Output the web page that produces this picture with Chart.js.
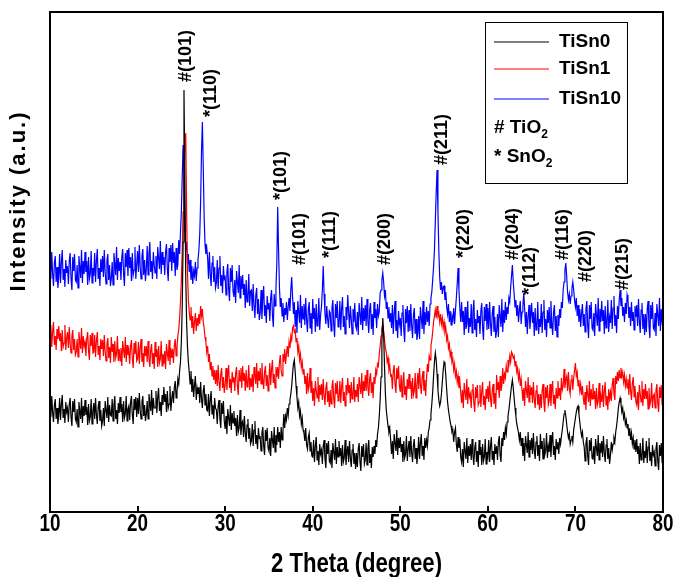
<!DOCTYPE html>
<html>
<head>
<meta charset="utf-8">
<title>XRD patterns</title>
<script src="https://cdn.jsdelivr.net/npm/chart.js@4.4.0/dist/chart.umd.min.js"></script>
<style>
  html, body { margin: 0; padding: 0; background: #fff; }
  #wrap { width: 675px; height: 577px; }
</style>
</head>
<body>
<div id="wrap"><canvas id="xrd" width="675" height="577"></canvas></div>
<script>
// scan grid, 10 to 80 degrees in 0.1 degree steps
const twoTheta = Array.from({ length: 701 }, (_, i) => Math.round((10 + i * 0.1) * 10) / 10);

// intensities (a.u., offset for stacking), one row per degree
const tiSn0 = [
  111, 95, 116, 99, 90, 107, 113, 93, 104, 88,
  97, 114, 92, 108, 117, 94, 103, 89, 110, 100,
  104, 90, 108, 114, 95, 86, 111, 100, 113, 93,
  90, 103, 85, 110, 101, 93, 114, 89, 106, 96,
  112, 97, 105, 87, 108, 91, 95, 113, 88, 100,
  109, 93, 114, 97, 88, 105, 111, 91, 102, 86,
  91, 104, 86, 111, 102, 94, 115, 90, 107, 97,
  96, 113, 91, 107, 116, 93, 102, 88, 109, 99,
  115, 100, 108, 90, 111, 94, 98, 116, 91, 103,
  106, 92, 110, 116, 97, 88, 113, 102, 115, 95,
  114, 98, 119, 102, 93, 110, 116, 96, 107, 91,
  98, 111, 93, 118, 109, 101, 122, 97, 114, 104,
  104, 121, 99, 115, 124, 101, 110, 96, 117, 107,
  125, 110, 118, 100, 121, 104, 108, 126, 101, 113,
  121, 109, 125, 131, 114, 120, 133, 128, 141, 150,
  170, 205, 270, 422, 330, 235, 190, 165, 150, 140,
  128, 141, 120, 133, 115, 127, 136, 112, 124, 118,
  125, 109, 130, 113, 104, 121, 127, 107, 118, 102,
  101, 118, 96, 112, 121, 98, 107, 93, 114, 104,
  102, 88, 106, 112, 93, 84, 109, 98, 111, 91,
  83, 96, 78, 103, 94, 86, 107, 82, 99, 89,
  101, 86, 94, 76, 97, 80, 84, 102, 77, 89,
  91, 75, 96, 79, 70, 87, 93, 73, 84, 68,
  71, 88, 66, 82, 91, 68, 77, 63, 84, 74,
  75, 61, 79, 85, 66, 57, 82, 71, 84, 64,
  61, 74, 56, 81, 72, 64, 85, 60, 77, 67,
  85, 70, 80, 64, 85, 72, 80, 98, 84, 96,
  92, 104, 97, 108, 112, 118, 126, 138, 148, 152,
  140, 126, 115, 104, 110, 96, 101, 88, 94, 82,
  79, 71, 84, 67, 63, 75, 79, 61, 70, 56,
  55, 72, 50, 66, 75, 52, 61, 47, 68, 58,
  62, 48, 66, 72, 53, 44, 69, 58, 71, 51,
  49, 62, 44, 69, 60, 52, 73, 48, 65, 55,
  71, 56, 64, 46, 67, 50, 54, 72, 47, 59,
  66, 50, 71, 54, 45, 62, 68, 48, 59, 43,
  59, 45, 63, 69, 50, 41, 66, 55, 68, 48,
  52, 69, 47, 63, 72, 49, 58, 44, 65, 55,
  66, 58, 72, 65, 78, 84, 96, 112, 135, 170,
  194, 178, 145, 118, 102, 94, 86, 80, 84, 72,
  58, 71, 53, 78, 69, 61, 82, 57, 74, 64,
  75, 60, 68, 50, 71, 54, 58, 76, 51, 63,
  71, 55, 76, 59, 50, 67, 73, 53, 64, 48,
  58, 75, 53, 69, 78, 56, 66, 52, 74, 64,
  72, 66, 80, 84, 92, 98, 108, 120, 136, 150,
  159, 152, 138, 122, 112, 106, 110, 118, 130, 142,
  150, 148, 136, 122, 110, 102, 96, 90, 86, 80,
  82, 70, 80, 84, 68, 60, 75, 64, 73, 55,
  50, 63, 45, 70, 61, 53, 74, 49, 66, 56,
  68, 52, 73, 56, 47, 64, 70, 50, 61, 45,
  72, 57, 65, 47, 68, 51, 55, 73, 48, 60,
  55, 72, 50, 66, 75, 52, 61, 47, 68, 58,
  66, 52, 70, 76, 57, 50, 74, 66, 80, 72,
  84, 78, 90, 96, 102, 110, 118, 126, 132, 124,
  114, 104, 96, 88, 84, 79, 72, 80, 66, 74,
  56, 69, 51, 76, 67, 59, 80, 55, 72, 62,
  74, 58, 79, 62, 53, 70, 76, 56, 67, 51,
  78, 63, 71, 53, 74, 57, 61, 79, 54, 66,
  60, 77, 55, 71, 80, 57, 66, 52, 73, 63,
  70, 58, 74, 68, 76, 82, 90, 98, 102, 96,
  88, 80, 74, 78, 68, 72, 76, 70, 82, 88,
  94, 100, 104, 106, 98, 90, 82, 76, 80, 70,
  65, 51, 69, 75, 56, 47, 72, 61, 74, 54,
  53, 66, 48, 73, 64, 56, 77, 52, 69, 59,
  71, 55, 76, 59, 50, 67, 73, 53, 64, 48,
  57, 70, 62, 68, 74, 70, 80, 86, 94, 104,
  110, 114, 108, 100, 104, 94, 98, 88, 92, 84,
  88, 76, 84, 72, 79, 68, 74, 63, 72, 60,
  73, 58, 66, 48, 69, 52, 56, 74, 49, 61,
  54, 71, 49, 65, 74, 51, 60, 46, 67, 57,
  60, 46, 64, 70, 51, 42, 67, 56, 69, 49,
  58
];

const tiSn1 = [
  170, 187, 165, 181, 190, 167, 176, 162, 183, 173,
  186, 171, 179, 161, 182, 165, 169, 187, 162, 174,
  180, 164, 185, 168, 159, 176, 182, 162, 173, 157,
  160, 173, 155, 180, 171, 163, 184, 159, 176, 166,
  170, 156, 174, 180, 161, 152, 177, 166, 179, 159,
  160, 177, 155, 171, 180, 157, 166, 152, 173, 163,
  172, 156, 177, 160, 151, 168, 174, 154, 165, 149,
  175, 160, 168, 150, 171, 154, 158, 176, 151, 163,
  151, 164, 146, 171, 162, 154, 175, 150, 167, 157,
  162, 148, 166, 172, 153, 144, 169, 158, 171, 151,
  153, 170, 148, 164, 173, 150, 159, 145, 166, 156,
  166, 150, 171, 154, 145, 162, 168, 148, 159, 143,
  170, 155, 163, 145, 166, 149, 153, 171, 146, 158,
  148, 161, 143, 168, 159, 151, 172, 147, 164, 154,
  163, 149, 167, 173, 156, 165, 176, 182, 194, 210,
  232, 262, 300, 330, 370, 379, 300, 240, 212, 200,
  192, 205, 184, 196, 178, 190, 199, 181, 194, 186,
  198, 188, 206, 196, 203, 190, 184, 175, 170, 160,
  166, 150, 158, 142, 150, 136, 146, 132, 142, 128,
  142, 126, 147, 130, 121, 138, 144, 124, 135, 119,
  127, 144, 122, 138, 147, 124, 133, 119, 140, 130,
  135, 121, 139, 145, 126, 117, 142, 131, 144, 124,
  146, 131, 139, 121, 142, 125, 129, 147, 122, 134,
  125, 138, 120, 145, 136, 128, 149, 124, 141, 131,
  144, 128, 149, 132, 123, 140, 146, 126, 137, 121,
  132, 149, 127, 143, 152, 129, 138, 124, 145, 135,
  145, 133, 150, 157, 141, 136, 158, 150, 163, 148,
  158, 166, 155, 170, 164, 176, 172, 184, 186, 180,
  182, 170, 174, 160, 166, 152, 158, 145, 150, 138,
  143, 128, 136, 118, 139, 122, 126, 144, 119, 131,
  111, 124, 106, 131, 122, 114, 135, 110, 127, 117,
  128, 112, 133, 116, 107, 124, 130, 110, 121, 105,
  122, 108, 126, 132, 113, 104, 129, 118, 131, 111,
  114, 131, 109, 125, 134, 111, 120, 106, 127, 117,
  134, 119, 127, 109, 130, 113, 117, 135, 110, 122,
  115, 128, 110, 135, 126, 118, 139, 114, 131, 121,
  137, 121, 142, 125, 116, 133, 139, 119, 130, 114,
  135, 128, 142, 138, 148, 146, 158, 166, 176, 184,
  186, 180, 172, 164, 160, 150, 154, 142, 146, 136,
  137, 123, 141, 147, 128, 119, 144, 133, 146, 126,
  120, 137, 115, 131, 140, 117, 126, 112, 133, 123,
  138, 123, 131, 113, 134, 117, 121, 139, 114, 126,
  139, 123, 144, 127, 118, 135, 141, 121, 132, 116,
  135, 148, 140, 156, 152, 166, 172, 180, 190, 196,
  202, 194, 206, 196, 199, 190, 198, 188, 194, 184,
  190, 180, 184, 172, 176, 164, 168, 156, 160, 150,
  153, 142, 148, 136, 141, 130, 136, 124, 131, 120,
  109, 122, 104, 129, 120, 112, 133, 108, 125, 115,
  118, 104, 122, 128, 109, 100, 125, 114, 127, 107,
  110, 127, 105, 121, 130, 107, 116, 102, 123, 113,
  126, 110, 131, 114, 105, 122, 128, 108, 119, 103,
  137, 122, 130, 114, 136, 121, 126, 144, 128, 138,
  134, 146, 140, 152, 147, 156, 150, 160, 158, 154,
  156, 146, 151, 140, 144, 133, 139, 126, 133, 122,
  111, 124, 106, 131, 122, 114, 135, 110, 127, 117,
  125, 109, 130, 113, 104, 121, 127, 107, 118, 102,
  118, 104, 122, 128, 109, 100, 125, 114, 127, 107,
  111, 128, 106, 122, 131, 108, 117, 103, 124, 114,
  131, 116, 124, 112, 134, 122, 126, 143, 124, 133,
  136, 121, 140, 124, 118, 132, 137, 122, 134, 142,
  149, 136, 140, 126, 132, 121, 128, 117, 126, 114,
  107, 120, 102, 127, 118, 110, 131, 106, 123, 113,
  128, 113, 121, 103, 124, 107, 111, 129, 104, 116,
  110, 127, 105, 121, 130, 107, 116, 102, 123, 113,
  120, 111, 127, 134, 118, 112, 136, 128, 140, 131,
  142, 134, 144, 136, 140, 130, 137, 126, 133, 124,
  133, 117, 138, 121, 112, 129, 135, 115, 126, 110,
  107, 120, 102, 127, 118, 110, 131, 106, 123, 113,
  128, 113, 121, 103, 124, 107, 111, 129, 104, 116,
  118, 104, 122, 128, 109, 100, 125, 114, 127, 107,
  121
];

const tiSn10 = [
  254, 233, 260, 238, 226, 249, 256, 230, 245, 224,
  235, 258, 229, 250, 262, 232, 243, 225, 252, 239,
  246, 228, 251, 259, 234, 222, 255, 241, 258, 232,
  230, 247, 224, 256, 245, 234, 262, 229, 251, 238,
  260, 240, 251, 227, 255, 233, 238, 261, 229, 244,
  236, 259, 230, 251, 263, 233, 244, 226, 253, 240,
  256, 235, 262, 240, 228, 251, 258, 232, 247, 226,
  233, 250, 227, 259, 248, 237, 265, 232, 254, 241,
  250, 232, 255, 263, 238, 226, 259, 245, 262, 236,
  264, 244, 255, 231, 259, 237, 242, 265, 233, 248,
  261, 240, 267, 245, 233, 256, 263, 237, 252, 231,
  243, 266, 237, 258, 270, 240, 251, 233, 260, 247,
  239, 256, 233, 265, 254, 243, 271, 238, 260, 247,
  255, 237, 260, 268, 243, 231, 264, 250, 267, 241,
  269, 249, 260, 236, 264, 242, 247, 272, 258, 280,
  300, 335, 367, 340, 290, 262, 270, 248, 258, 240,
  252, 232, 246, 228, 241, 236, 250, 231, 244, 252,
  262, 278, 310, 360, 390, 345, 296, 268, 258, 264,
  254, 233, 260, 238, 226, 249, 256, 230, 245, 224,
  229, 252, 223, 244, 256, 226, 237, 219, 246, 233,
  235, 217, 240, 248, 223, 211, 244, 230, 247, 221,
  215, 232, 209, 241, 230, 219, 247, 214, 236, 223,
  237, 217, 228, 204, 232, 210, 215, 238, 206, 221,
  222, 201, 228, 206, 194, 217, 224, 198, 213, 192,
  199, 222, 193, 214, 226, 196, 207, 189, 216, 203,
  209, 191, 214, 222, 197, 185, 218, 206, 224, 248,
  305, 262, 225, 205, 214, 196, 209, 190, 204, 197,
  210, 192, 205, 214, 201, 222, 235, 215, 198, 210,
  185, 202, 179, 211, 200, 189, 217, 184, 206, 193,
  208, 187, 214, 192, 180, 203, 210, 184, 199, 178,
  213, 193, 204, 180, 208, 186, 191, 214, 182, 197,
  205, 222, 246, 218, 198, 188, 206, 193, 184, 201,
  199, 181, 204, 212, 187, 175, 208, 194, 211, 185,
  188, 211, 182, 203, 215, 185, 196, 178, 205, 192,
  217, 200, 184, 206, 193, 178, 203, 190, 209, 186,
  183, 200, 177, 209, 198, 187, 215, 182, 204, 191,
  207, 186, 213, 191, 179, 202, 209, 183, 198, 177,
  210, 194, 203, 184, 208, 196, 200, 219, 222, 232,
  239, 230, 216, 222, 203, 210, 194, 205, 190, 199,
  184, 207, 178, 199, 211, 181, 192, 174, 201, 188,
  194, 176, 199, 207, 182, 170, 203, 189, 206, 180,
  202, 181, 208, 186, 174, 197, 204, 178, 193, 172,
  179, 196, 173, 205, 194, 183, 211, 178, 200, 187,
  205, 190, 201, 186, 208, 214, 220, 232, 245, 262,
  290, 320, 342, 300, 262, 235, 222, 230, 218, 225,
  226, 212, 220, 205, 198, 208, 190, 201, 187, 196,
  192, 204, 188, 202, 214, 228, 244, 222, 204, 190,
  210, 190, 201, 177, 205, 183, 188, 211, 179, 194,
  185, 208, 179, 200, 212, 182, 193, 175, 202, 189,
  196, 178, 201, 209, 184, 172, 205, 191, 208, 182,
  204, 183, 210, 188, 176, 199, 206, 180, 195, 174,
  181, 198, 175, 207, 196, 185, 213, 180, 202, 189,
  210, 192, 205, 198, 214, 210, 224, 236, 247, 230,
  218, 205, 212, 196, 207, 190, 202, 211, 188, 200,
  206, 219, 203, 185, 200, 178, 196, 207, 183, 195,
  209, 189, 200, 176, 204, 182, 187, 210, 178, 193,
  185, 208, 179, 200, 212, 182, 193, 175, 202, 189,
  205, 184, 211, 189, 177, 200, 207, 181, 196, 175,
  197, 186, 203, 194, 210, 204, 222, 230, 242, 249,
  236, 220, 212, 218, 208, 216, 224, 230, 222, 212,
  205, 214, 196, 207, 190, 203, 185, 199, 208, 186,
  198, 180, 203, 211, 186, 174, 207, 193, 210, 184,
  182, 199, 176, 208, 197, 186, 214, 181, 203, 190,
  211, 191, 202, 178, 206, 184, 189, 212, 180, 195,
  189, 212, 183, 204, 216, 186, 197, 179, 206, 193,
  212, 222, 206, 214, 196, 205, 190, 209, 198, 217,
  212, 194, 205, 186, 210, 191, 200, 182, 206, 195,
  207, 186, 213, 191, 179, 202, 209, 183, 198, 177,
  198, 180, 203, 211, 186, 174, 207, 193, 210, 184,
  182, 199, 176, 208, 197, 186, 214, 181, 203, 190,
  193
];

const seriesNames = ["TiSn0", "TiSn1", "TiSn10"];
const seriesValues = [tiSn0, tiSn1, tiSn10];
const seriesColors = ["#000000", "#ff0000", "#0000ff"];

const xTicks = [10, 20, 30, 40, 50, 60, 70, 80];
const xTitle = "2 Theta (degree)";
const yTitle = "Intensity (a.u.)";

// reflection labels (# anatase TiO2, * rutile SnO2) and where each one starts
const peakText = ["#(101)", "*(110)", "*(101)", "#(101)", "*(111)", "#(200)", "#(211)",
  "*(220)", "#(204)", "*(112)", "#(116)", "#(220)", "#(215)"];
const peakAngle = [25.5, 28.4, 36.4, 38.55, 41.95, 48.25, 54.75, 57.3, 62.85, 64.8, 68.6, 71.2, 75.45];
const peakLevel = [430, 395, 312, 247, 254, 247, 347, 254, 252, 217, 252, 230, 222];

const sans = "'Liberation Sans', Arial, sans-serif";

const datasets = seriesNames.map((name, i) => ({
  label: name,
  data: twoTheta.map((t, j) => ({ x: t, y: seriesValues[i][j] })),
  borderColor: seriesColors[i],
  borderWidth: 1.2,
  pointRadius: 0,
  tension: 0,
  fill: false,
}));

// draws text squeezed horizontally, like a narrow typeface
function narrowText(ctx, txt, x, y, squeeze) {
  ctx.save();
  ctx.translate(x, y);
  ctx.scale(squeeze, 1);
  ctx.fillText(txt, 0, 0);
  ctx.restore();
}

// box around the plot, inward ticks, tick labels and axis titles
const framePlugin = {
  id: "frame",
  afterDraw(chart) {
    const { ctx, chartArea: a, scales } = chart;
    ctx.save();
    ctx.strokeStyle = "#000";
    ctx.lineWidth = 2;
    ctx.strokeRect(a.left, a.top, a.right - a.left, a.bottom - a.top);
    ctx.beginPath();
    xTicks.forEach((v) => {
      const px = Math.round(scales.x.getPixelForValue(v));
      ctx.moveTo(px, a.bottom);
      ctx.lineTo(px, a.bottom - 6);
    });
    ctx.stroke();

    ctx.fillStyle = "#000";
    ctx.textAlign = "center";
    ctx.textBaseline = "middle";
    ctx.font = "bold 23px " + sans;
    xTicks.forEach((v) => {
      narrowText(ctx, String(v), scales.x.getPixelForValue(v), a.bottom + 13, 0.82);
    });
    ctx.font = "bold 27px " + sans;
    narrowText(ctx, xTitle, (a.left + a.right) / 2, a.bottom + 53, 0.82);

    ctx.font = "bold 22px " + sans;
    ctx.letterSpacing = "2px";
    ctx.translate(a.left - 31, a.top + 189);
    ctx.rotate(-Math.PI / 2);
    ctx.fillText(yTitle, 0, 0);
    ctx.restore();
  },
};

// vertical hkl labels over the peaks
const peakLabelPlugin = {
  id: "peakLabels",
  afterDatasetsDraw(chart) {
    const { ctx, scales } = chart;
    ctx.save();
    ctx.fillStyle = "#000";
    ctx.font = "bold 18px " + sans;
    ctx.textAlign = "left";
    ctx.textBaseline = "middle";
    peakText.forEach((txt, i) => {
      const px = scales.x.getPixelForValue(peakAngle[i]);
      const py = scales.y.getPixelForValue(peakLevel[i]);
      ctx.save();
      ctx.translate(px, py);
      ctx.rotate(-Math.PI / 2);
      ctx.fillText(txt, 0, 0);
      ctx.restore();
    });
    ctx.restore();
  },
};

// legend box with the three samples and the phase symbols
const legendPlugin = {
  id: "legendBox",
  afterDraw(chart) {
    const { ctx, chartArea: a } = chart;
    const lx = a.right - 178;
    const ly = a.top + 10;
    ctx.save();
    ctx.fillStyle = "#fff";
    ctx.fillRect(lx, ly, 142, 161);
    ctx.strokeStyle = "#000";
    ctx.lineWidth = 1;
    ctx.strokeRect(lx + 0.5, ly + 0.5, 142, 161);

    const rows = [20, 47, 77];
    ctx.font = "bold 19px " + sans;
    ctx.textBaseline = "middle";
    ctx.textAlign = "left";
    seriesNames.forEach((name, i) => {
      const y = ly + rows[i];
      ctx.strokeStyle = seriesColors[i];
      ctx.lineWidth = 1.2;
      ctx.beginPath();
      ctx.moveTo(lx + 9, y);
      ctx.lineTo(lx + 64, y);
      ctx.stroke();
      ctx.fillStyle = "#000";
      ctx.fillText(name, lx + 74, y);
    });

    const phases = [["# TiO", 106], ["* SnO", 135]];
    phases.forEach(([txt, dy]) => {
      ctx.font = "bold 19px " + sans;
      ctx.fillText(txt, lx + 9, ly + dy);
      const w = ctx.measureText(txt).width;
      ctx.font = "bold 12px " + sans;
      ctx.fillText("2", lx + 9 + w, ly + dy + 7);
    });
    ctx.restore();
  },
};

new Chart(document.getElementById("xrd"), {
  type: "line",
  data: { datasets },
  options: {
    responsive: false,
    animation: false,
    devicePixelRatio: 1,
    layout: { padding: { left: 50, top: 12, right: 12, bottom: 65 } },
    plugins: { legend: { display: false }, tooltip: { enabled: false } },
    scales: {
      x: { type: "linear", min: 10, max: 80, display: false },
      y: { min: 0, max: 500, display: false },
    },
  },
  plugins: [framePlugin, peakLabelPlugin, legendPlugin],
});
</script>
</body>
</html>
